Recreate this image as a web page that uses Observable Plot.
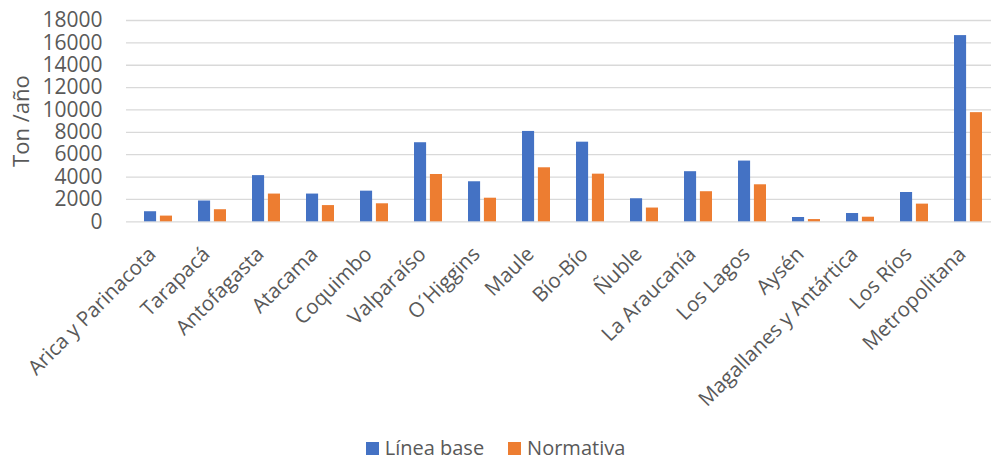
<!DOCTYPE html>
<html><head><meta charset="utf-8">
<script src="https://cdn.jsdelivr.net/npm/d3@7"></script>
<script src="https://cdn.jsdelivr.net/npm/@observablehq/plot@0.6"></script>
<style>
html,body{margin:0;padding:0;background:#fff;}
body{font-family:"Open Sans",sans-serif;width:991px;overflow:hidden;}
#legend{display:flex;justify-content:center;align-items:center;height:22px;line-height:22px;font-size:20px;color:#595959;position:relative;top:1px;}
#legend .item{display:flex;align-items:center;margin:0 12px;}
#legend .sw{width:13px;height:13px;margin-right:6px;display:inline-block;}
</style></head><body>
<div id="chart"></div>
<div id="legend"></div>
<script>
const regions = ["Arica y Parinacota","Tarapacá","Antofagasta","Atacama","Coquimbo","Valparaíso","O´Higgins","Maule","Bío-Bío","Ñuble","La Araucanía","Los Lagos","Aysén","Magallanes y Antártica","Los Ríos","Metropolitana"];
const lineaBase = [900,1860,4130,2480,2740,7070,3580,8080,7120,2060,4480,5430,385,740,2620,16650];
const normativa = [510,1080,2480,1450,1610,4230,2110,4830,4260,1230,2690,3310,200,410,1580,9760];
const yTicks = [0,2000,4000,6000,8000,10000,12000,14000,16000,18000];
const seriesNames = ["Línea base","Normativa"];
const seriesColors = ["#4472C4","#ED7D31"];
const yLabel = "Ton /año";

const baseRows = regions.map((r,i)=>({region:r, value:lineaBase[i]}));
const normRows = regions.map((r,i)=>({region:r, value:normativa[i]}));

const W = 991, H = 436;
const chart = Plot.plot({
  width: W, height: H,
  marginLeft: 126, marginRight: 0, marginTop: 20, marginBottom: H - 221.3,
  style: {fontFamily: "'Open Sans', sans-serif", fontSize: "20px", color: "#595959", background: "white", overflow: "visible"},
  x: {domain: regions, range: [126, 1000], padding: 0},
  y: {domain: [0, 18000]},
  marks: [
    Plot.ruleY(yTicks, {stroke: "#D9D9D9", strokeWidth: 1.3}),
    Plot.axisY({ticks: yTicks, tickSize: 0, tickPadding: 24, tickFormat: d => String(d), fontSize: 21, fill: "#595959", label: null}),
    Plot.axisX({tickRotate: -45, tickSize: 0, tickPadding: 29, dx: -6, fontSize: 20.5, fill: "#595959", label: null}),
    Plot.text([yLabel], {frameAnchor: "left", textAnchor: "middle", text: d => d, rotate: -90, dx: -105, fontSize: 22, fill: "#595959"}),
    Plot.barY(baseRows, {x: "region", y: "value", fill: seriesColors[0], insetLeft: 13, insetRight: 28.9}),
    Plot.barY(normRows, {x: "region", y: "value", fill: seriesColors[1], insetLeft: 28.9, insetRight: 13})
  ]
});
document.getElementById("chart").appendChild(chart);

const legend = document.getElementById("legend");
seriesNames.forEach((n,i)=>{
  const it = document.createElement("div"); it.className="item";
  const sw = document.createElement("span"); sw.className="sw"; sw.style.background = seriesColors[i];
  const tx = document.createElement("span"); tx.textContent = n;
  it.appendChild(sw); it.appendChild(tx); legend.appendChild(it);
});
</script>
</body></html>
